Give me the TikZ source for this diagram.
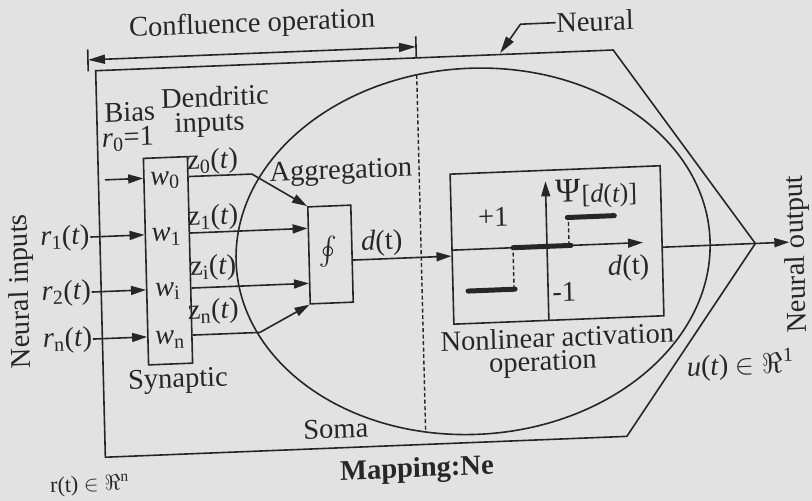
\RequirePackage{fix-cm}
\documentclass[tikz,border=0pt]{standalone}
\usepackage{fontspec}
\setmainfont{Liberation Serif}
\usetikzlibrary{arrows.meta,calc}
\definecolor{bg}{RGB}{226,226,226}
\definecolor{ink}{RGB}{38,38,38}
\newcommand{\lsb}[1]{\textsubscript{#1}}
\begin{document}
\begin{tikzpicture}[x=1pt,y=1pt,
  font=\fontsize{28.5}{30}\selectfont,
  color=ink, line width=1.6pt,
  arr/.style={-{Triangle[length=15pt,width=9pt]}},
  lbl/.style={inner sep=0pt, transform shape},
  box/.style={draw, inner sep=0pt, transform shape},
  stepseg/.style={line width=5pt, line cap=round},
  dashv/.style={dash pattern=on 4pt off 2.5pt, line width=1.4pt}]
\fill[bg] (0,0) rectangle (812,501);
\useasboundingbox (0,0) rectangle (812,501);
\begin{scope}[cm={1,0.04,-0.025,1,(6.25pt,-16.24pt)}]
  % outer neural shape
  \coordinate (tip) at (755,243.5);
  \draw (100.5,442.5) -- (618,442.5) -- (tip) -- (622,56) -- (100.5,56) -- cycle;
  % soma
  \draw (473,247) ellipse [x radius=237pt, y radius=183pt];
  \coordinate (dtop) at (421,425.5);
  \coordinate (dbot) at (421,68.5);
  \draw[dashv] (dtop) -- (dbot);
  % confluence dimension
  \coordinate (dimL) at (93,453.5);
  \coordinate (dimR) at (421,453.5);
  \draw ($(dimL)+(0,-11.5)$) -- ($(dimL)+(0,10.5)$);
  \draw ($(dimR)+(0,-11)$) -- ($(dimR)+(0,10.5)$);
  \draw[{Triangle[length=17pt,width=9pt]}-{Triangle[length=17pt,width=9pt]}] (dimL) -- (dimR);
  \node[lbl] (conf) at (258,482) {Confluence operation};
  % Neural leader
  \node[lbl, anchor=west] (neural) at (561,472) {Neural};
  \draw[-{Triangle[length=17pt,width=9pt]}] (neural.west) -- (526,472) -- (505,444);
  % synaptic weights
  \node[box, minimum width=44pt, minimum height=206.5pt] (wbox) at (168,249.75) {};
  \node[lbl] (w0) at (167,330) {\textit{w}\lsb{0}};
  \node[lbl] (w1) at (167,274) {\textit{w}\lsb{1}};
  \node[lbl] (wi) at (167,219) {\textit{w}\lsb{i}};
  \node[lbl] (wn) at (168,171) {\textit{w}\lsb{n}};
  \node[lbl] (synaptic) at (175,129) {Synaptic};
  \node[lbl] (bias) at (133.5,400) {Bias};
  \node[lbl] (r0) at (131,373) {\textit{r}\lsb{0}=1};
  \node[lbl] (dend) at (219,412) {Dendritic};
  \node[lbl] (dinp) at (213,384) {inputs};
  % inputs
  \coordinate (b0) at (107,333);
  \node[lbl, anchor=east] (r1) at (91,276.5) {\textit{r}\lsb{1}(\textit{t})};
  \node[lbl, anchor=east] (r2) at (91,221.5) {\textit{r}\lsb{2}(\textit{t})};
  \node[lbl, anchor=east] (rn) at (91,174.5) {\textit{r}\lsb{n}(\textit{t})};
  \draw[arr] (b0) -- (b0 -| wbox.west);
  \draw[arr] (r1.east) -- (r1.east -| wbox.west);
  \draw[arr] (r2.east) -- (r2.east -| wbox.west);
  \draw[arr] (rn.east) -- (rn.east -| wbox.west);
  \node[lbl, rotate=90] (ninputs) at (21,225) {Neural inputs};
  % aggregation
  \node[box, minimum width=43pt, minimum height=97pt] (agg) at (330.5,249.5) {};
  \node[lbl] (oint) at (328,250) {\scalebox{2.8}{$\oint$}};
  \node[lbl] (aggl) at (343,331) {Aggregation};
  \draw[arr] (b0 -| wbox.east) -- (254,333) -- (agg.north west);
  \draw[arr] (r1.east -| wbox.east) -- (r1.east -| agg.west);
  \draw[arr] (r2.east -| wbox.east) -- (r2.east -| agg.west);
  \draw[arr] (rn.east -| wbox.east) -- (258,174.5) -- (agg.south west);
  \node[lbl] (z0) at (215,347) {z\lsb{0}(\textit{t})};
  \node[lbl] (z1) at (214,291) {z\lsb{1}(\textit{t})};
  \node[lbl] (zi) at (213,241) {z\lsb{i}(\textit{t})};
  \node[lbl] (zn) at (212,197) {z\lsb{n}(\textit{t})};
  % activation
  \node[box, minimum width=210pt, minimum height=150pt] (act) at (557,250) {};
  \coordinate (dout) at (352,243);
  \draw[arr] (dout) -- (dout -| act.west);
  \node[lbl] (dl) at (382,259) {\textit{d}(t)};
  \draw[arr] (452,249) -- (643,249);
  \draw[arr] (547,175) -- (547,314);
  \draw[dashv] (513,207.5) -- (513,249);
  \draw[dashv] (569,249) -- (569,277);
  \draw[stepseg] (467,207.5) -- (514,207.5);
  \draw[stepseg] (513,249) -- (571,249);
  \draw[stepseg] (568,277) -- (615,277);
  \node[lbl] (p1) at (494,280.5) {+1};
  \node[lbl] (m1) at (563,203) {-1};
  \node[lbl, anchor=west] (psi) at (556,300) {\fontsize{34}{34}\selectfont Ψ\kern1pt\raisebox{-2pt}{\fontsize{26}{26}\selectfont[\textit{d}(\textit{t})]}};
  \node[lbl] (dax) at (628,224) {\textit{d}(t)};
  \node[lbl] (nl1) at (555,158) {Nonlinear activation};
  \node[lbl] (nl2) at (540,131.5) {operation};
  % output
  \coordinate (outend) at (789,243.5);
  \draw[arr] (act.east |- tip) -- (outend);
  \node[lbl, rotate=90] (nout) at (797,231) {Neural output};
  \node[lbl] (ul) at (737,122.5) {\textit{u}(\textit{t}) $\in\Re$\textsuperscript{1}};
  % bottom
  \node[lbl] (soma) at (331.5,75) {Soma};
  \node[lbl] (map) at (411.5,30.5) {\bfseries Mapping:Ne};
  \node[lbl] (rt) at (84,28) {\fontsize{22}{24}\selectfont r(t) $\in\Re$\textsuperscript{n}};
\end{scope}
\end{tikzpicture}
\end{document}
